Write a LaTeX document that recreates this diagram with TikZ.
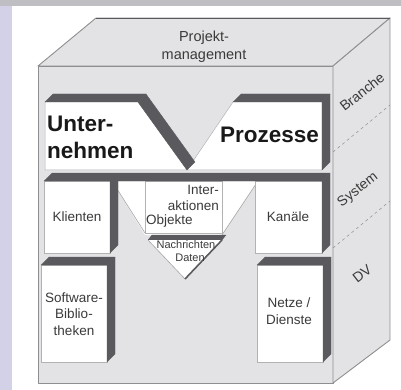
\documentclass[tikz,border=0pt]{standalone}
\usepackage{fontspec}
\setmainfont{Liberation Sans}
\definecolor{topband}{HTML}{BFBFC3}
\definecolor{leftband}{HTML}{D3D1E7}
\definecolor{facecol}{HTML}{E3E3E5}
\definecolor{edgecol}{HTML}{8E8E90}
\definecolor{darkcol}{HTML}{5A5A5E}
\definecolor{txtcol}{HTML}{3A3A3A}
\begin{document}
\begin{tikzpicture}[x=1pt,y=-1pt,
  cubeface/.style={fill=facecol,draw=edgecol,line width=0.9pt,line join=round},
  whitebox/.style={fill=white,draw=gray!60,line width=0.5pt},
  darkface/.style={fill=darkcol,draw=darkcol,line width=0.3pt,line join=round},
  thinedge/.style={draw=gray!70,line width=0.6pt},
  lbl/.style={inner sep=0pt,text=txtcol,font=\fontsize{13.5}{16.5}\selectfont},
  biglbl/.style={inner sep=0pt,text=black!90,font=\fontsize{22.5}{27}\selectfont\bfseries},
  sidelbl/.style={inner sep=0pt,text=txtcol,font=\fontsize{14}{16}\selectfont,rotate=38},
  sepline/.style={draw=edgecol,dashed,line width=0.5pt}
]
\useasboundingbox (0,0) rectangle (401,390);
\fill[topband] (0,0) rectangle (401,6);
\fill[leftband] (0,6) rectangle (12,390);
% cube
\coordinate (F1) at (38,66);
\coordinate (F2) at (333,66);
\coordinate (F3) at (333,383);
\coordinate (F4) at (38,383);
\coordinate (B1) at (96,18);
\coordinate (B2) at (390,18);
\coordinate (B3) at (390,340);
\path[cubeface] (F1)--(F2)--(F3)--(F4)--cycle;
\path[cubeface] (F1)--(B1)--(B2)--(F2)--cycle;
\path[cubeface] (F2)--(B2)--(B3)--(F3)--cycle;
\draw[darkcol,line width=0.9pt] (B1)--(B2);
\coordinate (S1a) at (333,152);
\coordinate (S1b) at (390,105);
\coordinate (S2a) at (333,248);
\coordinate (S2b) at (390,201);
\draw[sepline] (S1a)--(S1b);
\draw[sepline] (S2a)--(S2b);
% top row
\path[whitebox] (45,102)--(138,102)--(187,170)--(233,102)--(322,102)--(322,170)--(45,170)--cycle;
\path[darkface] (45,102)--(53,94)--(146,94)--(138,102)--cycle;
\path[darkface] (138,102)--(146,94)--(195,162)--(187,170)--cycle;
\path[darkface] (233,102)--(241,94)--(330,94)--(322,102)--cycle;
\path[darkface] (322,102)--(330,94)--(330,162)--(322,170)--cycle;
% second row
\path[fill=white] (112,181)--(258,181)--(222,235)--(145,235)--cycle;
\draw[thinedge] (112,181)--(145,233);
\draw[thinedge] (258,181)--(222,235);
\path[whitebox] (44,181) rectangle (110,253);
\path[darkface] (110,181)--(118,173)--(118,245)--(110,253)--cycle;
\path[whitebox] (145,181) rectangle (222,233);
\path[whitebox] (255,181) rectangle (322,253);
\path[darkface] (322,181)--(330,173)--(330,245)--(322,253)--cycle;
\path[darkface] (44,181)--(52,173)--(330,173)--(322,181)--cycle;
% Nachrichten triangle
\path[darkface] (148,240)--(152,235)--(226,235)--(222,240)--cycle;
\path[fill=white] (148,240)--(222,240)--(185,279)--cycle;
\draw[thinedge] (148,240)--(185,279);
\draw[darkcol,line width=1.6pt] (222,240)--(185,279);
% third row
\path[whitebox] (41,265) rectangle (107,362);
\path[darkface] (41,265)--(49,257)--(115,257)--(107,265)--cycle;
\path[darkface] (107,265)--(115,257)--(115,354)--(107,362)--cycle;
\path[whitebox] (257,265) rectangle (323,362);
\path[darkface] (257,265)--(265,257)--(331,257)--(323,265)--cycle;
\path[darkface] (323,265)--(331,257)--(331,354)--(323,362)--cycle;
% labels
\node[lbl,align=center,font=\fontsize{14.5}{18}\selectfont] (pm) at (204,47) {Projekt-\\management};
\node[biglbl,align=left,anchor=west] (unt) at (47,137) {Unter-\\nehmen};
\node[biglbl,anchor=west] (proz) at (220,135) {Prozesse};
\node[lbl] (kli) at (77,217) {Klienten};
\node[lbl] (kan) at (288,217) {Kanäle};
\node[lbl,align=right,anchor=east] (inter) at (219,198) {Inter-\\aktionen};
\node[lbl,anchor=west] (obj) at (146,221) {Objekte};
\node[lbl,font=\fontsize{11}{13}\selectfont] (nach) at (186,245) {Nachrichten};
\node[lbl,font=\fontsize{11}{13}\selectfont] (daten) at (190,258) {Daten};
\node[lbl,align=center] (sw) at (74,314) {Software-\\Biblio-\\theken};
\node[lbl,align=center] (netze) at (289,311) {Netze /\\Dienste};
\node[sidelbl] (branche) at (362,92) {Branche};
\node[sidelbl] (system) at (358,190) {System};
\node[sidelbl] (dv) at (362,274) {DV};
\end{tikzpicture}
\end{document}
